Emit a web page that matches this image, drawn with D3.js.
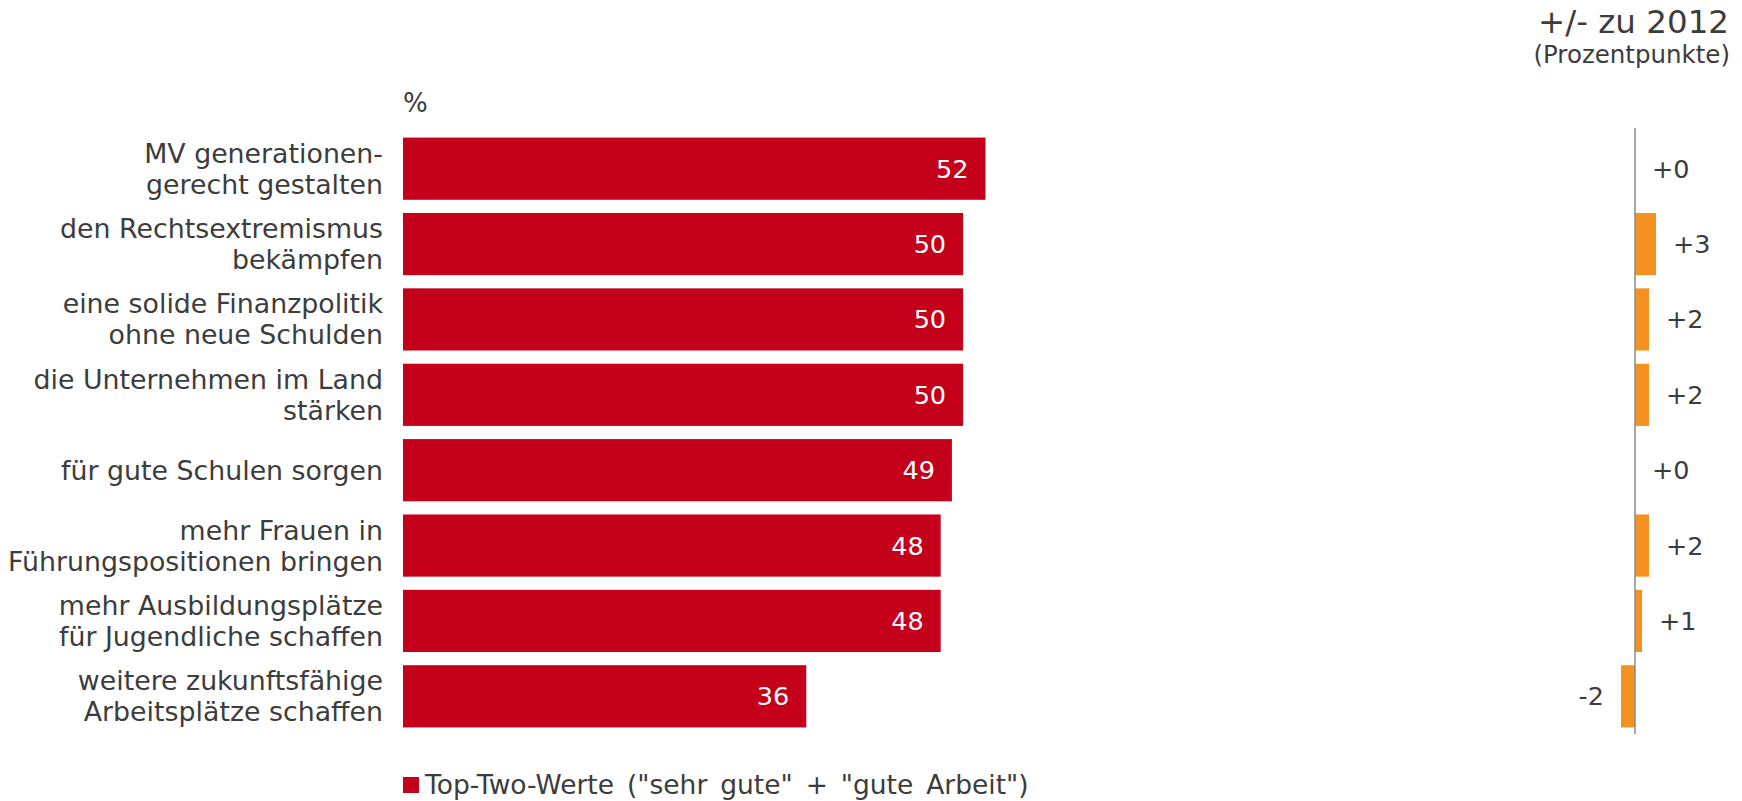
<!DOCTYPE html>
<html>
<head>
<meta charset="utf-8">
<script src="https://cdn.jsdelivr.net/npm/d3@7"></script>
<style>
  html, body { margin: 0; padding: 0; background: #fff; }
  svg { display: block; font-family: "DejaVu Sans", Verdana, sans-serif; }
</style>
</head>
<body>
<svg id="chart" width="1742" height="801"></svg>
<script>
// Task statements (two-line labels split with "\n")
const categories = [
  "MV generationen-\ngerecht gestalten",
  "den Rechtsextremismus\nbekämpfen",
  "eine solide Finanzpolitik\nohne neue Schulden",
  "die Unternehmen im Land\nstärken",
  "für gute Schulen sorgen",
  "mehr Frauen in\nFührungspositionen bringen",
  "mehr Ausbildungsplätze\nfür Jugendliche schaffen",
  "weitere zukunftsfähige\nArbeitsplätze schaffen"
];
// Top-two share, percent
const topTwo = [52, 50, 50, 50, 49, 48, 48, 36];
// Change versus 2012, percentage points
const change = [0, 3, 2, 2, 0, 2, 1, -2];
const changeLabels = ["+0", "+3", "+2", "+2", "+0", "+2", "+1", "-2"];

const legendLabel = 'Top-Two-Werte ("sehr gute" + "gute Arbeit")';
const unitLabel = "%";
const changeTitle = "+/- zu 2012";
const changeSubtitle = "(Prozentpunkte)";

const RED = "#c4001a";
const ORANGE = "#f39221";
const TEXT = "#3c3c3c";

const svg = d3.select("#chart");

const y = d3.scaleBand()
  .domain(d3.range(categories.length))
  .range([131, 734])
  .paddingInner(0.175)
  .paddingOuter(0.0875);

const x = d3.scaleLinear().domain([0, 52]).range([403, 985.5]);
const xc = d3.scaleLinear().domain([-2, 3]).range([1621, 1656]);

// Category labels
const labels = svg.append("g").attr("fill", TEXT).attr("font-size", 26.8).attr("text-anchor", "end");
categories.forEach((c, i) => {
  const lines = c.split("\n");
  const cy = y(i) + y.bandwidth() / 2;
  const lh = 31;
  const t = labels.append("text").attr("x", 383);
  lines.forEach((ln, j) => {
    t.append("tspan")
      .attr("x", 383)
      .attr("y", cy + (j - (lines.length - 1) / 2) * lh + 9.5)
      .text(ln);
  });
});

// Unit label
svg.append("text").attr("x", 403).attr("y", 112)
  .attr("fill", TEXT).attr("font-size", 26).text(unitLabel);

// Main bars
svg.append("g").selectAll("rect").data(topTwo).join("rect")
  .attr("x", x(0))
  .attr("y", (d, i) => y(i))
  .attr("width", d => x(d) - x(0))
  .attr("height", y.bandwidth())
  .attr("fill", RED);

svg.append("g").selectAll("text").data(topTwo).join("text")
  .attr("x", d => x(d) - 17)
  .attr("y", (d, i) => y(i) + y.bandwidth() / 2 + 9)
  .attr("text-anchor", "end")
  .attr("fill", "#fff")
  .attr("font-size", 25.5)
  .text(d => d);

// Change panel
svg.append("text").attr("x", 1729).attr("y", 33)
  .attr("text-anchor", "end").attr("fill", TEXT).attr("font-size", 32.5).text(changeTitle);
svg.append("text").attr("x", 1730).attr("y", 63)
  .attr("text-anchor", "end").attr("fill", TEXT).attr("font-size", 24.5).text(changeSubtitle);

svg.append("g").selectAll("rect").data(change).join("rect")
  .attr("x", d => xc(Math.min(0, d)))
  .attr("y", (d, i) => y(i))
  .attr("width", d => Math.abs(xc(d) - xc(0)))
  .attr("height", y.bandwidth())
  .attr("fill", ORANGE);

svg.append("line")
  .attr("x1", xc(0)).attr("x2", xc(0))
  .attr("y1", 128).attr("y2", 734)
  .attr("stroke", "#8a8a8a").attr("stroke-width", 1.5);

svg.append("g").selectAll("text").data(change).join("text")
  .attr("x", d => d < 0 ? xc(d) - 17 : xc(d) + 17)
  .attr("y", (d, i) => y(i) + y.bandwidth() / 2 + 9)
  .attr("text-anchor", d => d < 0 ? "end" : "start")
  .attr("fill", TEXT)
  .attr("font-size", 25.5)
  .text((d, i) => changeLabels[i]);

// Legend
const legend = svg.append("g");
legend.append("rect").attr("x", 403).attr("y", 777).attr("width", 16).attr("height", 16).attr("fill", RED);
legend.append("text").attr("x", 425).attr("y", 794)
  .attr("fill", TEXT).attr("font-size", 26.5).attr("word-spacing", 4.5).text(legendLabel);
</script>
</body>
</html>
